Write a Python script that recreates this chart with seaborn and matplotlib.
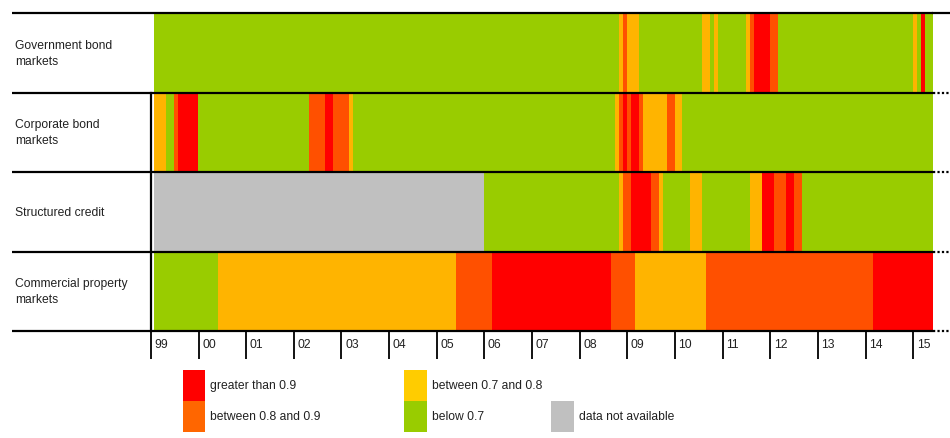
import numpy as np
import pandas as pd
import matplotlib
matplotlib.use('Agg')
import matplotlib.pyplot as plt
from matplotlib.colors import ListedColormap
from matplotlib.patches import Rectangle
import seaborn as sns

# monthly readings, Jan 1999 onwards, stored as runs of one band
# G below 0.7, Y 0.7-0.8, O 0.8-0.9, R above 0.9, N not available
gov_bands = ['G', 'Y', 'O', 'Y', 'G', 'Y', 'G', 'Y', 'G', 'Y', 'O', 'R', 'O', 'G', 'Y', 'G', 'R', 'G']
gov_months = [117, 1, 1, 3, 16, 2, 1, 1, 7, 1, 1, 4, 2, 34, 1, 1, 1, 2]

corp_bands = ['Y', 'G', 'O', 'R', 'G', 'O', 'R', 'O', 'Y', 'G', 'Y', 'O', 'R', 'O', 'R', 'O', 'Y', 'O', 'Y', 'G']
corp_months = [3, 2, 1, 5, 28, 4, 2, 4, 1, 66, 1, 1, 1, 1, 2, 1, 6, 2, 2, 63]

struct_bands = ['N', 'G', 'Y', 'O', 'R', 'O', 'Y', 'G', 'Y', 'G', 'Y', 'R', 'O', 'R', 'O', 'G']
struct_months = [83, 34, 1, 2, 5, 2, 1, 7, 3, 12, 3, 3, 3, 2, 2, 33]

prop_bands = ['G', 'Y', 'O', 'R', 'O', 'Y', 'O', 'R']
prop_months = [16, 60, 9, 30, 6, 18, 42, 15]

row_labels = ['Government bond\nmarkets', 'Corporate bond\nmarkets',
              'Structured credit', 'Commercial property\nmarkets']
year_labels = ['99', '00', '01', '02', '03', '04', '05', '06', '07', '08',
               '09', '10', '11', '12', '13', '14', '15']

band_codes = {'G': 0, 'Y': 1, 'O': 2, 'R': 3, 'N': 4}
band_colors = ['#99CC00', '#FFB400', '#FF5000', '#FF0000', '#C0C0C0']

rows = [(gov_bands, gov_months), (corp_bands, corp_months),
        (struct_bands, struct_months), (prop_bands, prop_months)]
grid = np.array([np.repeat([band_codes[b] for b in bands], months)
                 for bands, months in rows])
df = pd.DataFrame(grid, index=row_labels)
n_months = grid.shape[1]

plt.rcParams['font.family'] = ['Liberation Sans', 'DejaVu Sans']

W, H = 950, 439
fig = plt.figure(figsize=(W / 100, H / 100), dpi=100)
ax = fig.add_axes([150.9 / W, 1 - 332 / H, (932.6 - 150.9) / W, (332 - 14) / H])

sns.heatmap(df, ax=ax, cmap=ListedColormap(band_colors), vmin=-0.5, vmax=4.5,
            cbar=False, xticklabels=False, yticklabels=False)
ax.set_xlim(-0.9, n_months)
ax.set_ylim(4, 0)
ax.set_xlabel('')
ax.set_ylabel('')
for s in ax.spines.values():
    s.set_visible(False)

# year ticks: long lines below the axis, labels just right of each line
tick_pos = [12 * i - 0.9 for i in range(len(year_labels))]
ax.set_xticks(tick_pos)
ax.set_xticklabels([''] * len(tick_pos))
ax.tick_params(axis='x', bottom=True, length=20, width=1.3, color='black', direction='out')
ax.tick_params(axis='y', left=False)
for x, lab in zip(tick_pos, year_labels):
    ax.text(x + 0.9, -0.04, lab, transform=ax.get_xaxis_transform(),
            ha='left', va='center', fontsize=8.7, color='#222222')

# row labels and separating lines
ytr = ax.get_yaxis_transform()
for i, lab in enumerate(row_labels):
    ax.text(-0.1735, i + 0.5, lab, transform=ytr, ha='left', va='center',
            fontsize=8.7, color='#222222', linespacing=1.45)
for y in range(5):
    ax.plot([-0.178, 1.0], [y, y], transform=ytr, color='black', lw=1.6,
            clip_on=False, solid_capstyle='butt')
    ax.plot([1.0, 1.022], [y, y], transform=ytr, color='black', lw=1.6,
            ls=(0, (1, 1)) if y > 0 else '-', clip_on=False)
ax.plot([-0.9, -0.9], [1, 4], color='black', lw=1.6, clip_on=False)

# legend
def box(x0, y0, x1, y1, color):
    fig.patches.append(Rectangle((x0 / W, 1 - y1 / H), (x1 - x0) / W, (y1 - y0) / H,
                                 transform=fig.transFigure, color=color, lw=0))

legend = [(182.5, 370.5, '#FF0000', 'greater than 0.9'),
          (182.5, 401.5, '#FF6600', 'between 0.8 and 0.9'),
          (404.0, 370.5, '#FFCC00', 'between 0.7 and 0.8'),
          (404.0, 401.5, '#99CC00', 'below 0.7'),
          (551.0, 401.5, '#C0C0C0', 'data not available')]
for x0, y0, c, lab in legend:
    box(x0, y0, x0 + 22.5, y0 + 31, c)
    fig.text((x0 + 28) / W, 1 - (y0 + 16) / H, lab, ha='left', va='center',
             fontsize=8.7, color='#222222')

fig.savefig('out.png', dpi=100)
